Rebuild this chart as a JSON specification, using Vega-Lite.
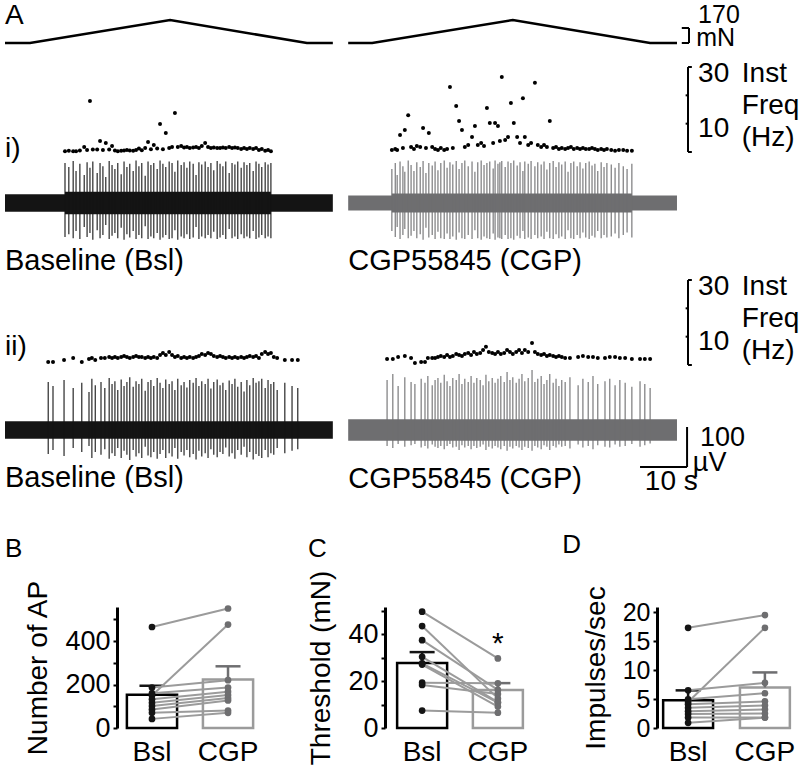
{
"$schema":"https://vega.github.io/schema/vega-lite/v6.json",
"padding":0,
"background":"white",
"config":{
 "view":{"stroke":null},
 "font":"Liberation Sans",
 "title":{"font":"Liberation Sans","fontWeight":"normal","color":"black"},
 "axisY":{"domainColor":"black","domainWidth":3,"tickColor":"black","tickWidth":2,"tickSize":4,"labelFontSize":27,"labelPadding":3,"labelOverlap":false,"titleFontSize":28,"grid":false,"labelColor":"black","titleColor":"black","titleFontWeight":"normal","labelFont":"Liberation Sans","titleFont":"Liberation Sans"},
 "axisX":{"domain":false,"ticks":false,"labelAngle":0,"labelFontSize":28,"labelPadding":10,"labelColor":"black","grid":false,"labelFont":"Liberation Sans"}
},
"datasets":{
 "force":[
  {"c":"B","t":0,"mN":0},{"c":"B","t":5.2,"mN":0},{"c":"B","t":34.4,"mN":260},{"c":"B","t":62.9,"mN":0},{"c":"B","t":68.3,"mN":0},
  {"c":"C","t":71.5,"mN":0},{"c":"C","t":76.5,"mN":0},{"c":"C","t":105.8,"mN":260},{"c":"C","t":134.4,"mN":0},{"c":"C","t":140,"mN":0}
 ],
 "noise":[
  {"c":"B","r":1,"t0":0,"t1":68.3,"lo":-22,"hi":22},
  {"c":"B","r":1,"t0":12.5,"t1":55.4,"lo":-28,"hi":28},
  {"c":"C","r":1,"t0":71.5,"t1":140,"lo":-19,"hi":19},
  {"c":"C","r":1,"t0":80.6,"t1":130.6,"lo":-24,"hi":24},
  {"c":"B","r":2,"t0":0,"t1":68.3,"lo":-22,"hi":22},
  {"c":"C","r":2,"t0":71.5,"t1":140,"lo":-27,"hi":27}
 ],
 "spk":[
  {"c":"B","r":1,"t":12.5,"u":100,"d":-85,"f":0.3},{"c":"B","r":1,"t":13.3,"u":90,"d":-78,"f":0.4},{"c":"B","r":1,"t":14.2,"u":105,"d":-88,"f":0.3},{"c":"B","r":1,"t":14.8,"u":80,"d":-70,"f":0.3},
  {"c":"B","r":1,"t":15.6,"u":98,"d":-90,"f":0.5},{"c":"B","r":1,"t":16.5,"u":70,"d":-60,"f":1.8},{"c":"B","r":1,"t":17.1,"u":102,"d":-85,"f":0.7},{"c":"B","r":1,"t":17.7,"u":88,"d":-75,"f":18},
  {"c":"B","r":1,"t":18.3,"u":104,"d":-92,"f":0.9},{"c":"B","r":1,"t":19.2,"u":75,"d":-68,"f":0.9},{"c":"B","r":1,"t":19.8,"u":100,"d":-88,"f":3.9},{"c":"B","r":1,"t":20.4,"u":92,"d":-80,"f":0.7},
  {"c":"B","r":1,"t":21.0,"u":65,"d":-55,"f":3.2},{"c":"B","r":1,"t":21.7,"u":105,"d":-90,"f":0.9},{"c":"B","r":1,"t":22.3,"u":95,"d":-82,"f":2.1},{"c":"B","r":1,"t":22.9,"u":85,"d":-75,"f":0.5},
  {"c":"B","r":1,"t":23.5,"u":100,"d":-88,"f":0.3},{"c":"B","r":1,"t":24.2,"u":72,"d":-62,"f":0.4},{"c":"B","r":1,"t":24.8,"u":104,"d":-92,"f":0.5},{"c":"B","r":1,"t":25.4,"u":90,"d":-78,"f":0.7},
  {"c":"B","r":1,"t":26.0,"u":98,"d":-86,"f":0.5},{"c":"B","r":1,"t":26.7,"u":80,"d":-70,"f":0.4},{"c":"B","r":1,"t":27.3,"u":106,"d":-90,"f":0.7},{"c":"B","r":1,"t":27.9,"u":92,"d":-80,"f":1.2},
  {"c":"B","r":1,"t":28.5,"u":100,"d":-88,"f":0.6},{"c":"B","r":1,"t":29.2,"u":68,"d":-58,"f":1.4},{"c":"B","r":1,"t":29.8,"u":104,"d":-90,"f":3.5},{"c":"B","r":1,"t":30.4,"u":95,"d":-84,"f":1.0},
  {"c":"B","r":1,"t":31.0,"u":100,"d":-88,"f":2.5},{"c":"B","r":1,"t":31.7,"u":85,"d":-75,"f":1.2},{"c":"B","r":1,"t":32.3,"u":106,"d":-92,"f":9.9},{"c":"B","r":1,"t":32.9,"u":98,"d":-86,"f":1.0},
  {"c":"B","r":1,"t":33.5,"u":90,"d":-80,"f":6.7},{"c":"B","r":1,"t":34.2,"u":104,"d":-90,"f":1.4},{"c":"B","r":1,"t":34.8,"u":100,"d":-88,"f":1.8},{"c":"B","r":1,"t":35.4,"u":78,"d":-68,"f":13.8},
  {"c":"B","r":1,"t":36.0,"u":106,"d":-92,"f":1.8},{"c":"B","r":1,"t":36.7,"u":95,"d":-84,"f":2.1},{"c":"B","r":1,"t":37.3,"u":102,"d":-88,"f":1.6},{"c":"B","r":1,"t":37.9,"u":88,"d":-78,"f":1.8},
  {"c":"B","r":1,"t":38.5,"u":104,"d":-90,"f":1.4},{"c":"B","r":1,"t":39.2,"u":98,"d":-86,"f":1.6},{"c":"B","r":1,"t":39.8,"u":70,"d":-60,"f":1.8},{"c":"B","r":1,"t":40.4,"u":102,"d":-90,"f":1.4},
  {"c":"B","r":1,"t":41.0,"u":96,"d":-84,"f":2.1},{"c":"B","r":1,"t":41.7,"u":104,"d":-88,"f":3.2},{"c":"B","r":1,"t":42.3,"u":90,"d":-80,"f":1.8},{"c":"B","r":1,"t":42.9,"u":100,"d":-88,"f":1.4},
  {"c":"B","r":1,"t":43.5,"u":82,"d":-72,"f":1.6},{"c":"B","r":1,"t":44.2,"u":105,"d":-90,"f":1.4},{"c":"B","r":1,"t":44.8,"u":98,"d":-86,"f":1.4},{"c":"B","r":1,"t":45.4,"u":92,"d":-80,"f":1.6},
  {"c":"B","r":1,"t":46.0,"u":104,"d":-90,"f":1.4},{"c":"B","r":1,"t":46.7,"u":75,"d":-65,"f":1.8},{"c":"B","r":1,"t":47.3,"u":100,"d":-88,"f":1.4},{"c":"B","r":1,"t":47.9,"u":96,"d":-84,"f":1.6},
  {"c":"B","r":1,"t":48.5,"u":104,"d":-90,"f":1.4},{"c":"B","r":1,"t":49.2,"u":88,"d":-78,"f":1.1},{"c":"B","r":1,"t":49.8,"u":102,"d":-88,"f":1.4},{"c":"B","r":1,"t":50.4,"u":95,"d":-84,"f":1.1},
  {"c":"B","r":1,"t":51.0,"u":100,"d":-88,"f":1.4},{"c":"B","r":1,"t":51.7,"u":80,"d":-70,"f":1.1},{"c":"B","r":1,"t":52.3,"u":104,"d":-90,"f":1.4},{"c":"B","r":1,"t":52.9,"u":98,"d":-86,"f":0.7},
  {"c":"B","r":1,"t":53.5,"u":90,"d":-80,"f":1.1},{"c":"B","r":1,"t":54.2,"u":102,"d":-88,"f":0.4},{"c":"B","r":1,"t":54.8,"u":96,"d":-84,"f":0.7},{"c":"B","r":1,"t":55.4,"u":100,"d":-88,"f":0.3},

  {"c":"C","r":1,"t":80.6,"u":85,"d":-70,"f":0.7},{"c":"C","r":1,"t":81.3,"u":100,"d":-85,"f":1.1},{"c":"C","r":1,"t":81.7,"u":70,"d":-60,"f":0.7},{"c":"C","r":1,"t":82.3,"u":104,"d":-90,"f":6.0},
  {"c":"C","r":1,"t":82.9,"u":92,"d":-80,"f":1.4},{"c":"C","r":1,"t":83.3,"u":78,"d":-65,"f":7.8},{"c":"C","r":1,"t":84.0,"u":106,"d":-88,"f":13.0},{"c":"C","r":1,"t":84.6,"u":95,"d":-82,"f":1.8},
  {"c":"C","r":1,"t":85.2,"u":80,"d":-70,"f":1.1},{"c":"C","r":1,"t":85.8,"u":102,"d":-88,"f":2.1},{"c":"C","r":1,"t":86.5,"u":90,"d":-78,"f":1.8},{"c":"C","r":1,"t":87.1,"u":105,"d":-92,"f":8.5},
  {"c":"C","r":1,"t":87.7,"u":75,"d":-62,"f":1.4},{"c":"C","r":1,"t":88.3,"u":100,"d":-86,"f":6.7},{"c":"C","r":1,"t":89.0,"u":94,"d":-80,"f":1.8},{"c":"C","r":1,"t":89.6,"u":104,"d":-90,"f":1.1},
  {"c":"C","r":1,"t":90.2,"u":82,"d":-72,"f":0.7},{"c":"C","r":1,"t":90.8,"u":100,"d":-88,"f":1.4},{"c":"C","r":1,"t":91.5,"u":106,"d":-90,"f":0.7},{"c":"C","r":1,"t":92.1,"u":88,"d":-76,"f":1.1},
  {"c":"C","r":1,"t":92.7,"u":102,"d":-90,"f":22.9},{"c":"C","r":1,"t":93.3,"u":96,"d":-84,"f":1.4},{"c":"C","r":1,"t":94.0,"u":105,"d":-92,"f":16.2},{"c":"C","r":1,"t":94.6,"u":85,"d":-74,"f":10.9},
  {"c":"C","r":1,"t":95.2,"u":100,"d":-88,"f":7.8},{"c":"C","r":1,"t":95.8,"u":106,"d":-90,"f":1.8},{"c":"C","r":1,"t":96.5,"u":92,"d":-80,"f":2.5},{"c":"C","r":1,"t":97.3,"u":104,"d":-90,"f":5.3},
  {"c":"C","r":1,"t":97.9,"u":78,"d":-68,"f":9.2},{"c":"C","r":1,"t":98.5,"u":102,"d":-88,"f":2.5},{"c":"C","r":1,"t":99.2,"u":106,"d":-92,"f":3.2},{"c":"C","r":1,"t":99.8,"u":95,"d":-84,"f":2.1},
  {"c":"C","r":1,"t":100.4,"u":100,"d":-88,"f":15.5},{"c":"C","r":1,"t":101.0,"u":104,"d":-90,"f":10.2},{"c":"C","r":1,"t":101.7,"u":86,"d":-76,"f":3.2},{"c":"C","r":1,"t":102.1,"u":106,"d":-92,"f":10.2},
  {"c":"C","r":1,"t":102.7,"u":98,"d":-86,"f":9.2},{"c":"C","r":1,"t":103.1,"u":102,"d":-88,"f":3.9},{"c":"C","r":1,"t":103.5,"u":105,"d":-90,"f":26.5},{"c":"C","r":1,"t":104.2,"u":90,"d":-80,"f":4.2},
  {"c":"C","r":1,"t":104.8,"u":104,"d":-90,"f":5.3},{"c":"C","r":1,"t":105.4,"u":100,"d":-88,"f":17.3},{"c":"C","r":1,"t":106.0,"u":106,"d":-92,"f":10.2},{"c":"C","r":1,"t":106.7,"u":94,"d":-82,"f":5.3},
  {"c":"C","r":1,"t":107.3,"u":102,"d":-88,"f":3.2},{"c":"C","r":1,"t":107.9,"u":80,"d":-70,"f":19.0},{"c":"C","r":1,"t":108.3,"u":104,"d":-90,"f":5.3},{"c":"C","r":1,"t":109.0,"u":98,"d":-86,"f":2.5},
  {"c":"C","r":1,"t":109.6,"u":105,"d":-90,"f":3.2},{"c":"C","r":1,"t":110.4,"u":92,"d":-80,"f":24.4},{"c":"C","r":1,"t":111.0,"u":102,"d":-88,"f":2.5},{"c":"C","r":1,"t":111.7,"u":96,"d":-84,"f":1.8},
  {"c":"C","r":1,"t":112.3,"u":104,"d":-90,"f":2.5},{"c":"C","r":1,"t":112.9,"u":84,"d":-72,"f":1.8},{"c":"C","r":1,"t":113.5,"u":100,"d":-88,"f":10.9},{"c":"C","r":1,"t":114.2,"u":105,"d":-90,"f":1.4},
  {"c":"C","r":1,"t":114.8,"u":90,"d":-78,"f":1.8},{"c":"C","r":1,"t":115.4,"u":102,"d":-88,"f":1.1},{"c":"C","r":1,"t":116.0,"u":96,"d":-84,"f":1.4},{"c":"C","r":1,"t":116.7,"u":104,"d":-90,"f":1.1},
  {"c":"C","r":1,"t":117.3,"u":78,"d":-68,"f":1.4},{"c":"C","r":1,"t":117.9,"u":100,"d":-88,"f":1.8},{"c":"C","r":1,"t":118.5,"u":104,"d":-90,"f":1.1},{"c":"C","r":1,"t":119.2,"u":92,"d":-80,"f":1.4},
  {"c":"C","r":1,"t":119.8,"u":102,"d":-88,"f":1.1},{"c":"C","r":1,"t":120.4,"u":86,"d":-74,"f":1.4},{"c":"C","r":1,"t":121.0,"u":100,"d":-86,"f":1.1},{"c":"C","r":1,"t":121.7,"u":104,"d":-90,"f":1.1},
  {"c":"C","r":1,"t":122.3,"u":94,"d":-82,"f":1.4},{"c":"C","r":1,"t":122.9,"u":98,"d":-86,"f":1.1},{"c":"C","r":1,"t":123.5,"u":80,"d":-70,"f":0.7},{"c":"C","r":1,"t":124.2,"u":102,"d":-88,"f":1.1},
  {"c":"C","r":1,"t":124.8,"u":90,"d":-80,"f":0.7},{"c":"C","r":1,"t":125.4,"u":100,"d":-86,"f":1.1},{"c":"C","r":1,"t":126.3,"u":96,"d":-84,"f":0.7},{"c":"C","r":1,"t":127.1,"u":88,"d":-76,"f":0.4},
  {"c":"C","r":1,"t":127.9,"u":100,"d":-88,"f":0.7},{"c":"C","r":1,"t":128.8,"u":92,"d":-80,"f":0.7},{"c":"C","r":1,"t":129.6,"u":85,"d":-74,"f":0.4},{"c":"C","r":1,"t":130.6,"u":98,"d":-86,"f":0.4},

  {"c":"B","r":2,"t":9.0,"u":120,"d":-60,"f":1.1},{"c":"B","r":2,"t":10.0,"u":110,"d":-50,"f":1.1},{"c":"B","r":2,"t":12.3,"u":125,"d":-65,"f":1.8},{"c":"B","r":2,"t":14.2,"u":105,"d":-45,"f":2.5},
  {"c":"B","r":2,"t":16.0,"u":118,"d":-55,"f":1.1},{"c":"B","r":2,"t":17.5,"u":95,"d":-40,"f":2.1},{"c":"B","r":2,"t":18.1,"u":128,"d":-70,"f":2.5},{"c":"B","r":2,"t":18.8,"u":112,"d":-55,"f":1.8},
  {"c":"B","r":2,"t":20.0,"u":120,"d":-62,"f":2.5},{"c":"B","r":2,"t":20.8,"u":105,"d":-48,"f":2.5},{"c":"B","r":2,"t":21.7,"u":130,"d":-72,"f":2.8},{"c":"B","r":2,"t":22.3,"u":115,"d":-58,"f":2.5},
  {"c":"B","r":2,"t":22.9,"u":122,"d":-65,"f":2.8},{"c":"B","r":2,"t":23.5,"u":100,"d":-45,"f":2.5},{"c":"B","r":2,"t":24.2,"u":126,"d":-70,"f":2.8},{"c":"B","r":2,"t":24.8,"u":110,"d":-52,"f":3.2},
  {"c":"B","r":2,"t":25.4,"u":120,"d":-62,"f":2.8},{"c":"B","r":2,"t":26.0,"u":132,"d":-75,"f":2.5},{"c":"B","r":2,"t":26.7,"u":108,"d":-50,"f":2.8},{"c":"B","r":2,"t":27.3,"u":122,"d":-66,"f":3.2},
  {"c":"B","r":2,"t":27.9,"u":115,"d":-58,"f":2.8},{"c":"B","r":2,"t":28.5,"u":128,"d":-70,"f":2.8},{"c":"B","r":2,"t":29.2,"u":98,"d":-42,"f":2.5},{"c":"B","r":2,"t":29.8,"u":120,"d":-64,"f":2.8},
  {"c":"B","r":2,"t":30.4,"u":125,"d":-68,"f":2.5},{"c":"B","r":2,"t":31.0,"u":110,"d":-55,"f":2.8},{"c":"B","r":2,"t":31.7,"u":130,"d":-72,"f":2.5},{"c":"B","r":2,"t":32.3,"u":118,"d":-60,"f":3.5},
  {"c":"B","r":2,"t":32.9,"u":105,"d":-50,"f":4.2},{"c":"B","r":2,"t":33.5,"u":126,"d":-70,"f":3.5},{"c":"B","r":2,"t":34.2,"u":115,"d":-58,"f":4.6},{"c":"B","r":2,"t":34.8,"u":122,"d":-66,"f":3.5},
  {"c":"B","r":2,"t":35.4,"u":100,"d":-45,"f":2.8},{"c":"B","r":2,"t":36.0,"u":128,"d":-72,"f":3.2},{"c":"B","r":2,"t":36.7,"u":112,"d":-55,"f":2.5},{"c":"B","r":2,"t":37.3,"u":120,"d":-64,"f":2.8},
  {"c":"B","r":2,"t":37.9,"u":106,"d":-50,"f":2.5},{"c":"B","r":2,"t":38.5,"u":125,"d":-68,"f":2.8},{"c":"B","r":2,"t":39.2,"u":118,"d":-60,"f":2.5},{"c":"B","r":2,"t":39.8,"u":130,"d":-74,"f":2.8},
  {"c":"B","r":2,"t":40.4,"u":110,"d":-52,"f":3.2},{"c":"B","r":2,"t":41.0,"u":122,"d":-66,"f":3.9},{"c":"B","r":2,"t":41.7,"u":115,"d":-58,"f":3.5},{"c":"B","r":2,"t":42.3,"u":128,"d":-70,"f":4.2},
  {"c":"B","r":2,"t":42.9,"u":104,"d":-48,"f":3.9},{"c":"B","r":2,"t":43.5,"u":120,"d":-62,"f":3.2},{"c":"B","r":2,"t":44.2,"u":126,"d":-68,"f":2.8},{"c":"B","r":2,"t":44.8,"u":112,"d":-55,"f":3.2},
  {"c":"B","r":2,"t":45.4,"u":118,"d":-60,"f":2.8},{"c":"B","r":2,"t":46.0,"u":100,"d":-44,"f":2.5},{"c":"B","r":2,"t":46.7,"u":124,"d":-66,"f":2.8},{"c":"B","r":2,"t":47.3,"u":115,"d":-58,"f":2.5},
  {"c":"B","r":2,"t":47.9,"u":128,"d":-72,"f":2.8},{"c":"B","r":2,"t":48.5,"u":108,"d":-50,"f":2.5},{"c":"B","r":2,"t":49.2,"u":120,"d":-62,"f":2.8},{"c":"B","r":2,"t":49.8,"u":96,"d":-42,"f":2.5},
  {"c":"B","r":2,"t":50.4,"u":125,"d":-68,"f":2.8},{"c":"B","r":2,"t":51.0,"u":112,"d":-55,"f":3.2},{"c":"B","r":2,"t":51.7,"u":130,"d":-74,"f":2.8},{"c":"B","r":2,"t":52.3,"u":118,"d":-60,"f":3.2},
  {"c":"B","r":2,"t":52.9,"u":122,"d":-65,"f":2.5},{"c":"B","r":2,"t":53.5,"u":128,"d":-70,"f":3.9},{"c":"B","r":2,"t":54.2,"u":105,"d":-50,"f":4.6},{"c":"B","r":2,"t":54.8,"u":125,"d":-68,"f":3.9},
  {"c":"B","r":2,"t":55.4,"u":115,"d":-58,"f":4.2},{"c":"B","r":2,"t":56.0,"u":120,"d":-62,"f":2.8},{"c":"B","r":2,"t":56.7,"u":100,"d":-45,"f":2.5},{"c":"B","r":2,"t":58.3,"u":118,"d":-58,"f":1.8},
  {"c":"B","r":2,"t":59.8,"u":110,"d":-52,"f":1.8},{"c":"B","r":2,"t":61.0,"u":105,"d":-48,"f":1.8},

  {"c":"C","r":2,"t":79.6,"u":125,"d":-40,"f":2.1},{"c":"C","r":2,"t":80.8,"u":140,"d":-45,"f":2.1},{"c":"C","r":2,"t":81.9,"u":110,"d":-35,"f":2.8},{"c":"C","r":2,"t":83.3,"u":132,"d":-42,"f":3.2},
  {"c":"C","r":2,"t":84.6,"u":120,"d":-38,"f":2.5},{"c":"C","r":2,"t":85.4,"u":115,"d":-35,"f":0.7},{"c":"C","r":2,"t":86.7,"u":128,"d":-44,"f":1.1},{"c":"C","r":2,"t":87.5,"u":118,"d":-40,"f":1.1},
  {"c":"C","r":2,"t":88.1,"u":135,"d":-46,"f":2.5},{"c":"C","r":2,"t":89.0,"u":112,"d":-36,"f":2.5},{"c":"C","r":2,"t":89.6,"u":125,"d":-42,"f":2.5},{"c":"C","r":2,"t":90.2,"u":130,"d":-45,"f":2.8},
  {"c":"C","r":2,"t":90.8,"u":118,"d":-40,"f":3.2},{"c":"C","r":2,"t":91.5,"u":138,"d":-48,"f":2.8},{"c":"C","r":2,"t":92.1,"u":122,"d":-40,"f":3.5},{"c":"C","r":2,"t":92.7,"u":110,"d":-35,"f":2.8},
  {"c":"C","r":2,"t":93.3,"u":130,"d":-44,"f":3.2},{"c":"C","r":2,"t":94.0,"u":125,"d":-42,"f":3.9},{"c":"C","r":2,"t":94.6,"u":140,"d":-50,"f":3.5},{"c":"C","r":2,"t":95.2,"u":115,"d":-38,"f":3.2},
  {"c":"C","r":2,"t":95.8,"u":128,"d":-44,"f":3.9},{"c":"C","r":2,"t":96.5,"u":120,"d":-40,"f":4.2},{"c":"C","r":2,"t":97.1,"u":135,"d":-48,"f":3.5},{"c":"C","r":2,"t":97.7,"u":118,"d":-40,"f":4.6},
  {"c":"C","r":2,"t":98.3,"u":130,"d":-45,"f":3.9},{"c":"C","r":2,"t":99.0,"u":125,"d":-42,"f":4.2},{"c":"C","r":2,"t":99.6,"u":112,"d":-36,"f":5.3},{"c":"C","r":2,"t":100.2,"u":138,"d":-50,"f":6.4},
  {"c":"C","r":2,"t":100.8,"u":122,"d":-42,"f":4.6},{"c":"C","r":2,"t":101.5,"u":130,"d":-46,"f":4.2},{"c":"C","r":2,"t":102.1,"u":118,"d":-40,"f":3.9},{"c":"C","r":2,"t":102.7,"u":128,"d":-44,"f":4.6},
  {"c":"C","r":2,"t":103.3,"u":135,"d":-48,"f":3.9},{"c":"C","r":2,"t":104.0,"u":120,"d":-40,"f":4.2},{"c":"C","r":2,"t":104.6,"u":145,"d":-52,"f":5.3},{"c":"C","r":2,"t":105.2,"u":125,"d":-42,"f":4.6},
  {"c":"C","r":2,"t":105.8,"u":132,"d":-46,"f":3.9},{"c":"C","r":2,"t":106.5,"u":118,"d":-40,"f":4.6},{"c":"C","r":2,"t":107.1,"u":128,"d":-44,"f":5.3},{"c":"C","r":2,"t":107.7,"u":140,"d":-50,"f":4.2},
  {"c":"C","r":2,"t":108.3,"u":122,"d":-42,"f":5.3},{"c":"C","r":2,"t":109.0,"u":130,"d":-45,"f":4.6},{"c":"C","r":2,"t":109.8,"u":150,"d":-52,"f":7.8},{"c":"C","r":2,"t":110.4,"u":120,"d":-40,"f":4.6},
  {"c":"C","r":2,"t":111.0,"u":128,"d":-44,"f":3.9},{"c":"C","r":2,"t":111.7,"u":135,"d":-48,"f":3.5},{"c":"C","r":2,"t":112.3,"u":115,"d":-38,"f":3.9},{"c":"C","r":2,"t":112.9,"u":125,"d":-42,"f":3.2},
  {"c":"C","r":2,"t":113.5,"u":140,"d":-50,"f":3.5},{"c":"C","r":2,"t":114.2,"u":118,"d":-40,"f":3.2},{"c":"C","r":2,"t":114.8,"u":128,"d":-44,"f":2.8},{"c":"C","r":2,"t":115.4,"u":110,"d":-36,"f":3.2},
  {"c":"C","r":2,"t":116.0,"u":125,"d":-42,"f":2.8},{"c":"C","r":2,"t":116.7,"u":120,"d":-40,"f":2.5},{"c":"C","r":2,"t":117.7,"u":132,"d":-46,"f":2.5},{"c":"C","r":2,"t":119.4,"u":112,"d":-36,"f":2.8},
  {"c":"C","r":2,"t":120.4,"u":128,"d":-44,"f":3.2},{"c":"C","r":2,"t":121.5,"u":120,"d":-40,"f":2.8},{"c":"C","r":2,"t":122.5,"u":135,"d":-48,"f":2.8},{"c":"C","r":2,"t":123.5,"u":115,"d":-38,"f":2.5},
  {"c":"C","r":2,"t":125.0,"u":122,"d":-42,"f":2.5},{"c":"C","r":2,"t":126.0,"u":128,"d":-44,"f":2.8},{"c":"C","r":2,"t":127.1,"u":112,"d":-36,"f":2.8},{"c":"C","r":2,"t":128.1,"u":125,"d":-42,"f":2.5},
  {"c":"C","r":2,"t":129.2,"u":118,"d":-40,"f":2.5},{"c":"C","r":2,"t":130.6,"u":108,"d":-35,"f":2.1},{"c":"C","r":2,"t":132.3,"u":122,"d":-42,"f":2.1},{"c":"C","r":2,"t":133.3,"u":115,"d":-38,"f":2.1},
  {"c":"C","r":2,"t":134.4,"u":105,"d":-34,"f":2.1}
 ],
 "ptB":[
  {"s":1,"g":"Bsl","v":465},{"s":1,"g":"CGP","v":550},{"s":2,"g":"Bsl","v":150},{"s":2,"g":"CGP","v":476},
  {"s":3,"g":"Bsl","v":186},{"s":3,"g":"CGP","v":220},{"s":4,"g":"Bsl","v":160},{"s":4,"g":"CGP","v":186},
  {"s":5,"g":"Bsl","v":132},{"s":5,"g":"CGP","v":167},{"s":6,"g":"Bsl","v":116},{"s":6,"g":"CGP","v":152},
  {"s":7,"g":"Bsl","v":101},{"s":7,"g":"CGP","v":138},{"s":8,"g":"Bsl","v":85},{"s":8,"g":"CGP","v":127},
  {"s":9,"g":"Bsl","v":70},{"s":9,"g":"CGP","v":80},{"s":10,"g":"Bsl","v":42},{"s":10,"g":"CGP","v":70}
 ],
 "barB":[{"g":"Bsl","m":153,"e":195},{"g":"CGP","m":223,"e":284}],
 "ptC":[
  {"s":1,"g":"Bsl","v":49.5},{"s":1,"g":"CGP","v":29.6},{"s":2,"g":"Bsl","v":43.4},{"s":2,"g":"CGP","v":12.6},
  {"s":3,"g":"Bsl","v":37.4},{"s":3,"g":"CGP","v":16.2},{"s":4,"g":"Bsl","v":30.3},{"s":4,"g":"CGP","v":11.0},
  {"s":5,"g":"Bsl","v":27.5},{"s":5,"g":"CGP","v":10.8},{"s":6,"g":"Bsl","v":27.0},{"s":6,"g":"CGP","v":9.1},
  {"s":7,"g":"Bsl","v":19.3},{"s":7,"g":"CGP","v":19.0},{"s":8,"g":"Bsl","v":18.3},{"s":8,"g":"CGP","v":14.5},
  {"s":9,"g":"Bsl","v":7.4},{"s":9,"g":"CGP","v":6.5}
 ],
 "barC":[{"g":"Bsl","m":27.7,"e":32.3},{"g":"CGP","m":16.2,"e":19.1}],
 "ptD":[
  {"s":1,"g":"Bsl","v":17.3},{"s":1,"g":"CGP","v":19.5},{"s":2,"g":"Bsl","v":4.5},{"s":2,"g":"CGP","v":17.3},
  {"s":3,"g":"Bsl","v":6.5},{"s":3,"g":"CGP","v":7.8},{"s":4,"g":"Bsl","v":4.95},{"s":4,"g":"CGP","v":6.0},
  {"s":5,"g":"Bsl","v":4.1},{"s":5,"g":"CGP","v":4.6},{"s":6,"g":"Bsl","v":3.5},{"s":6,"g":"CGP","v":3.9},
  {"s":7,"g":"Bsl","v":2.9},{"s":7,"g":"CGP","v":3.2},{"s":8,"g":"Bsl","v":2.4},{"s":8,"g":"CGP","v":2.5},
  {"s":9,"g":"Bsl","v":1.8},{"s":9,"g":"CGP","v":1.8},{"s":10,"g":"Bsl","v":0.9},{"s":10,"g":"CGP","v":1.8}
 ],
 "barD":[{"g":"Bsl","m":4.8,"e":6.5},{"g":"CGP","m":7.0,"e":9.6}]
},
"spacing":26,
"vconcat":[
 {
  "width":688,"height":505,
  "resolve":{"scale":{"y":"independent"}},
  "layer":[
   {"layer":[
     {"data":{"name":"force"},"mark":{"type":"line","color":"black","strokeWidth":2.5},
      "encoding":{"x":{"field":"t","type":"quantitative","scale":{"domain":[0,166.67],"range":[-112,688],"nice":false,"zero":false},"axis":null},
       "y":{"field":"mN","type":"quantitative","scale":{"domain":[-5236,487.3],"nice":false,"zero":false},"axis":null},
       "detail":{"field":"c"}}},
     {"data":{"values":[{}]},"mark":{"type":"rule","color":"black","strokeWidth":2},
      "encoding":{"x":{"datum":142.5,"type":"quantitative","axis":null},"y":{"datum":0,"type":"quantitative","scale":{"domain":[-5236,487.3],"nice":false,"zero":false},"axis":null},"y2":{"datum":170}}},
     {"data":{"values":[{}]},"mark":{"type":"rule","color":"black","strokeWidth":2},
      "encoding":{"x":{"datum":141.0,"type":"quantitative","axis":null},"x2":{"datum":142.5},"y":{"datum":170,"type":"quantitative","scale":{"domain":[-5236,487.3],"nice":false,"zero":false},"axis":null}}},
     {"data":{"values":[{}]},"mark":{"type":"rule","color":"black","strokeWidth":2},
      "encoding":{"x":{"datum":141.0,"type":"quantitative","axis":null},"x2":{"datum":142.5},"y":{"datum":0,"type":"quantitative","scale":{"domain":[-5236,487.3],"nice":false,"zero":false},"axis":null}}},
     {"data":{"values":[{}]},"mark":{"type":"text","text":"A","align":"left","baseline":"alphabetic","fontSize":28,"color":"black"},
      "encoding":{"x":{"datum":0,"type":"quantitative","axis":null},"y":{"datum":215,"type":"quantitative","scale":{"domain":[-5236,487.3],"nice":false,"zero":false},"axis":null}}},
     {"data":{"values":[{}]},"mark":{"type":"text","text":"170","align":"left","baseline":"alphabetic","fontSize":25,"color":"black"},
      "encoding":{"x":{"datum":144.4,"type":"quantitative","axis":null},"y":{"datum":227,"type":"quantitative","scale":{"domain":[-5236,487.3],"nice":false,"zero":false},"axis":null}}},
     {"data":{"values":[{}]},"mark":{"type":"text","text":"mN","align":"left","baseline":"alphabetic","fontSize":25,"color":"black"},
      "encoding":{"x":{"datum":144.0,"type":"quantitative","axis":null},"y":{"datum":-34,"type":"quantitative","scale":{"domain":[-5236,487.3],"nice":false,"zero":false},"axis":null}}}
   ]},
   {"layer":[
     {"data":{"name":"spk"},"transform":[{"filter":"datum.r == 1"}],"mark":{"type":"point","filled":true,"shape":"circle","size":16,"color":"black","opacity":1},
      "encoding":{"x":{"field":"t","type":"quantitative","axis":null},"y":{"field":"f","type":"quantitative","scale":{"domain":[-124.6,53.65],"nice":false,"zero":false},"axis":null}}},
     {"data":{"values":[{}]},"mark":{"type":"rule","color":"black","strokeWidth":2},
      "encoding":{"x":{"datum":142.3,"type":"quantitative","axis":null},"y":{"datum":0,"type":"quantitative","scale":{"domain":[-124.6,53.65],"nice":false,"zero":false},"axis":null},"y2":{"datum":30}}},
     {"data":{"values":[{"h":0},{"h":30}]},"mark":{"type":"rule","color":"black","strokeWidth":2},
      "encoding":{"x":{"datum":142.3,"type":"quantitative","axis":null},"x2":{"datum":143.1},"y":{"field":"h","type":"quantitative","scale":{"domain":[-124.6,53.65],"nice":false,"zero":false},"axis":null}}},
     {"data":{"values":[{"h":10},{"h":20}]},"mark":{"type":"rule","color":"black","strokeWidth":2},
      "encoding":{"x":{"datum":141.8,"type":"quantitative","axis":null},"x2":{"datum":142.3},"y":{"field":"h","type":"quantitative","scale":{"domain":[-124.6,53.65],"nice":false,"zero":false},"axis":null}}},
     {"data":{"values":[{}]},"mark":{"type":"text","text":"i)","align":"left","baseline":"alphabetic","fontSize":28,"color":"black"},
      "encoding":{"x":{"datum":0,"type":"quantitative","axis":null},"y":{"datum":-1.8,"type":"quantitative","scale":{"domain":[-124.6,53.65],"nice":false,"zero":false},"axis":null}}},
     {"data":{"values":[{}]},"mark":{"type":"text","text":"30","align":"left","baseline":"alphabetic","fontSize":28,"color":"black"},
      "encoding":{"x":{"datum":144.4,"type":"quantitative","axis":null},"y":{"datum":24.7,"type":"quantitative","scale":{"domain":[-124.6,53.65],"nice":false,"zero":false},"axis":null}}},
     {"data":{"values":[{}]},"mark":{"type":"text","text":"10","align":"left","baseline":"alphabetic","fontSize":28,"color":"black"},
      "encoding":{"x":{"datum":144.4,"type":"quantitative","axis":null},"y":{"datum":5.3,"type":"quantitative","scale":{"domain":[-124.6,53.65],"nice":false,"zero":false},"axis":null}}},
     {"data":{"values":[{}]},"mark":{"type":"text","text":["Inst","Freq","(Hz)"],"lineHeight":32,"align":"left","baseline":"alphabetic","fontSize":28,"color":"black"},
      "encoding":{"x":{"datum":153.5,"type":"quantitative","axis":null},"y":{"datum":24.7,"type":"quantitative","scale":{"domain":[-124.6,53.65],"nice":false,"zero":false},"axis":null}}}
   ]},
   {"layer":[
     {"data":{"name":"noise"},"transform":[{"filter":"datum.r == 1"}],"mark":{"type":"rect"},
      "encoding":{"x":{"field":"t0","type":"quantitative","axis":null},"x2":{"field":"t1"},
       "y":{"field":"lo","type":"quantitative","scale":{"domain":[-755,507.5],"nice":false,"zero":false},"axis":null},"y2":{"field":"hi"},
       "color":{"field":"c","type":"nominal","scale":{"domain":["B","C"],"range":["#141414","#6e6e70"]},"legend":null}}},
     {"data":{"name":"spk"},"transform":[{"filter":"datum.r == 1"}],"mark":{"type":"rule","strokeWidth":1.1},
      "encoding":{"x":{"field":"t","type":"quantitative","axis":null},
       "y":{"field":"u","type":"quantitative","scale":{"domain":[-755,507.5],"nice":false,"zero":false},"axis":null},"y2":{"field":"d"},
       "color":{"field":"c","type":"nominal","scale":{"domain":["B","C"],"range":["#141414","#6e6e70"]},"legend":null}}},
     {"data":{"values":[{}]},"mark":{"type":"text","text":"Baseline (Bsl)","align":"left","baseline":"alphabetic","fontSize":29,"color":"black"},
      "encoding":{"x":{"datum":0,"type":"quantitative","axis":null},"y":{"datum":-167.5,"type":"quantitative","scale":{"domain":[-755,507.5],"nice":false,"zero":false},"axis":null}}},
     {"data":{"values":[{}]},"mark":{"type":"text","text":"CGP55845 (CGP)","align":"left","baseline":"alphabetic","fontSize":29,"color":"black"},
      "encoding":{"x":{"datum":71.5,"type":"quantitative","axis":null},"y":{"datum":-167.5,"type":"quantitative","scale":{"domain":[-755,507.5],"nice":false,"zero":false},"axis":null}}}
   ]},
   {"layer":[
     {"data":{"name":"spk"},"transform":[{"filter":"datum.r == 2"}],"mark":{"type":"point","filled":true,"shape":"circle","size":16,"color":"black","opacity":1},
      "encoding":{"x":{"field":"t","type":"quantitative","axis":null},"y":{"field":"f","type":"quantitative","scale":{"domain":[-49.42,128.84],"nice":false,"zero":false},"axis":null}}},
     {"data":{"values":[{}]},"mark":{"type":"rule","color":"black","strokeWidth":2},
      "encoding":{"x":{"datum":142.3,"type":"quantitative","axis":null},"y":{"datum":0,"type":"quantitative","scale":{"domain":[-49.42,128.84],"nice":false,"zero":false},"axis":null},"y2":{"datum":30}}},
     {"data":{"values":[{"h":0},{"h":30}]},"mark":{"type":"rule","color":"black","strokeWidth":2},
      "encoding":{"x":{"datum":142.3,"type":"quantitative","axis":null},"x2":{"datum":143.1},"y":{"field":"h","type":"quantitative","scale":{"domain":[-49.42,128.84],"nice":false,"zero":false},"axis":null}}},
     {"data":{"values":[{"h":10},{"h":20}]},"mark":{"type":"rule","color":"black","strokeWidth":2},
      "encoding":{"x":{"datum":141.8,"type":"quantitative","axis":null},"x2":{"datum":142.3},"y":{"field":"h","type":"quantitative","scale":{"domain":[-49.42,128.84],"nice":false,"zero":false},"axis":null}}},
     {"data":{"values":[{}]},"mark":{"type":"text","text":"ii)","align":"left","baseline":"alphabetic","fontSize":28,"color":"black"},
      "encoding":{"x":{"datum":0,"type":"quantitative","axis":null},"y":{"datum":3.5,"type":"quantitative","scale":{"domain":[-49.42,128.84],"nice":false,"zero":false},"axis":null}}},
     {"data":{"values":[{}]},"mark":{"type":"text","text":"30","align":"left","baseline":"alphabetic","fontSize":28,"color":"black"},
      "encoding":{"x":{"datum":144.4,"type":"quantitative","axis":null},"y":{"datum":24.7,"type":"quantitative","scale":{"domain":[-49.42,128.84],"nice":false,"zero":false},"axis":null}}},
     {"data":{"values":[{}]},"mark":{"type":"text","text":"10","align":"left","baseline":"alphabetic","fontSize":28,"color":"black"},
      "encoding":{"x":{"datum":144.4,"type":"quantitative","axis":null},"y":{"datum":5.3,"type":"quantitative","scale":{"domain":[-49.42,128.84],"nice":false,"zero":false},"axis":null}}},
     {"data":{"values":[{}]},"mark":{"type":"text","text":["Inst","Freq","(Hz)"],"lineHeight":32,"align":"left","baseline":"alphabetic","fontSize":28,"color":"black"},
      "encoding":{"x":{"datum":153.5,"type":"quantitative","axis":null},"y":{"datum":24.7,"type":"quantitative","scale":{"domain":[-49.42,128.84],"nice":false,"zero":false},"axis":null}}}
   ]},
   {"layer":[
     {"data":{"name":"noise"},"transform":[{"filter":"datum.r == 2"}],"mark":{"type":"rect"},
      "encoding":{"x":{"field":"t0","type":"quantitative","axis":null},"x2":{"field":"t1"},
       "y":{"field":"lo","type":"quantitative","scale":{"domain":[-187.5,1075],"nice":false,"zero":false},"axis":null},"y2":{"field":"hi"},
       "color":{"field":"c","type":"nominal","scale":{"domain":["B","C"],"range":["#141414","#6e6e70"]},"legend":null}}},
     {"data":{"name":"spk"},"transform":[{"filter":"datum.r == 2"}],"mark":{"type":"rule","strokeWidth":1.1},
      "encoding":{"x":{"field":"t","type":"quantitative","axis":null},
       "y":{"field":"u","type":"quantitative","scale":{"domain":[-187.5,1075],"nice":false,"zero":false},"axis":null},"y2":{"field":"d"},
       "color":{"field":"c","type":"nominal","scale":{"domain":["B","C"],"range":["#141414","#6e6e70"]},"legend":null}}},
     {"data":{"values":[{}]},"mark":{"type":"rule","color":"black","strokeWidth":2},
      "encoding":{"x":{"datum":142.1,"type":"quantitative","axis":null},"y":{"datum":-92.5,"type":"quantitative","scale":{"domain":[-187.5,1075],"nice":false,"zero":false},"axis":null},"y2":{"datum":7.5}}},
     {"data":{"values":[{}]},"mark":{"type":"rule","color":"black","strokeWidth":2},
      "encoding":{"x":{"datum":132.3,"type":"quantitative","axis":null},"x2":{"datum":142.1},"y":{"datum":-92.5,"type":"quantitative","scale":{"domain":[-187.5,1075],"nice":false,"zero":false},"axis":null}}},
     {"data":{"values":[{}]},"mark":{"type":"text","text":"Baseline (Bsl)","align":"left","baseline":"alphabetic","fontSize":29,"color":"black"},
      "encoding":{"x":{"datum":0,"type":"quantitative","axis":null},"y":{"datum":-142.5,"type":"quantitative","scale":{"domain":[-187.5,1075],"nice":false,"zero":false},"axis":null}}},
     {"data":{"values":[{}]},"mark":{"type":"text","text":"CGP55845 (CGP)","align":"left","baseline":"alphabetic","fontSize":29,"color":"black"},
      "encoding":{"x":{"datum":71.5,"type":"quantitative","axis":null},"y":{"datum":-145,"type":"quantitative","scale":{"domain":[-187.5,1075],"nice":false,"zero":false},"axis":null}}},
     {"data":{"values":[{}]},"mark":{"type":"text","text":"100","align":"left","baseline":"alphabetic","fontSize":27,"color":"black"},
      "encoding":{"x":{"datum":144.8,"type":"quantitative","axis":null},"y":{"datum":-40,"type":"quantitative","scale":{"domain":[-187.5,1075],"nice":false,"zero":false},"axis":null}}},
     {"data":{"values":[{}]},"mark":{"type":"text","text":"µV","align":"left","baseline":"alphabetic","fontSize":27,"color":"black"},
      "encoding":{"x":{"datum":143.3,"type":"quantitative","axis":null},"y":{"datum":-102,"type":"quantitative","scale":{"domain":[-187.5,1075],"nice":false,"zero":false},"axis":null}}},
     {"data":{"values":[{}]},"mark":{"type":"text","text":"10 s","align":"left","baseline":"alphabetic","fontSize":28,"color":"black"},
      "encoding":{"x":{"datum":133.3,"type":"quantitative","axis":null},"y":{"datum":-150,"type":"quantitative","scale":{"domain":[-187.5,1075],"nice":false,"zero":false},"axis":null}}}
   ]}
  ]
 },
 {
  "spacing":44,
  "hconcat":[
   {
    "width":146,"height":121,
    "title":{"text":"B","anchor":"start","fontSize":26,"dx":-20,"offset":18},
    "layer":[
     {"data":{"name":"barB"},"mark":{"type":"bar","fill":"white","strokeWidth":2.5},
      "encoding":{"x":{"field":"g","type":"nominal","scale":{"domain":["Bsl","CGP"],"paddingInner":0.34,"paddingOuter":0.13},"axis":{"title":null}},
       "y":{"field":"m","type":"quantitative","scale":{"domain":[0,557],"nice":false},"axis":{"title":"Number of AP","values":[0,100,200,300,400,500],"tickCount":6,"labelExpr":"datum.value % 200 == 0 ? datum.label : ''","titlePadding":12}},
       "stroke":{"field":"g","type":"nominal","scale":{"domain":["Bsl","CGP"],"range":["black","#9b9b9b"]},"legend":null}}},
     {"data":{"name":"barB"},"mark":{"type":"rule","strokeWidth":2.5},
      "encoding":{"x":{"field":"g","type":"nominal"},"y":{"field":"m","type":"quantitative"},"y2":{"field":"e"},
       "color":{"field":"g","type":"nominal","scale":{"domain":["Bsl","CGP"],"range":["black","#9b9b9b"]},"legend":null}}},
     {"data":{"name":"barB"},"mark":{"type":"tick","thickness":2.5,"size":25,"orient":"horizontal","opacity":1},
      "encoding":{"x":{"field":"g","type":"nominal"},"y":{"field":"e","type":"quantitative"},
       "color":{"field":"g","type":"nominal","scale":{"domain":["Bsl","CGP"],"range":["black","#9b9b9b"]},"legend":null}}},
     {"data":{"name":"ptB"},"mark":{"type":"line","color":"#9b9b9b","strokeWidth":2},
      "encoding":{"x":{"field":"g","type":"nominal"},"y":{"field":"v","type":"quantitative"},"detail":{"field":"s"}}},
     {"data":{"name":"ptB"},"mark":{"type":"circle","size":45,"opacity":1},
      "encoding":{"x":{"field":"g","type":"nominal"},"y":{"field":"v","type":"quantitative"},
       "color":{"field":"g","type":"nominal","scale":{"domain":["Bsl","CGP"],"range":["black","#9b9b9b"]},"legend":null}}}
    ]
   },
   {
    "spacing":27,
    "hconcat":[
     {
      "width":150,"height":121,
      "title":{"text":"C","anchor":"start","fontSize":26,"dx":0,"offset":8},
      "layer":[
       {"data":{"name":"barC"},"mark":{"type":"bar","fill":"white","strokeWidth":2.5},
        "encoding":{"x":{"field":"g","type":"nominal","scale":{"domain":["Bsl","CGP"],"paddingInner":0.34,"paddingOuter":0.16},"axis":{"title":null}},
         "y":{"field":"m","type":"quantitative","scale":{"domain":[0,51.5],"nice":false},"axis":{"title":"Threshold (mN)","values":[0,10,20,30,40,50],"tickCount":6,"labelExpr":"datum.value % 20 == 0 ? datum.label : ''","titlePadding":12}},
         "stroke":{"field":"g","type":"nominal","scale":{"domain":["Bsl","CGP"],"range":["black","#9b9b9b"]},"legend":null}}},
       {"data":{"name":"barC"},"mark":{"type":"rule","strokeWidth":2.5},
        "encoding":{"x":{"field":"g","type":"nominal"},"y":{"field":"m","type":"quantitative"},"y2":{"field":"e"},
         "color":{"field":"g","type":"nominal","scale":{"domain":["Bsl","CGP"],"range":["black","#9b9b9b"]},"legend":null}}},
       {"data":{"name":"barC"},"mark":{"type":"tick","thickness":2.5,"size":25,"orient":"horizontal","opacity":1},
        "encoding":{"x":{"field":"g","type":"nominal"},"y":{"field":"e","type":"quantitative"},
         "color":{"field":"g","type":"nominal","scale":{"domain":["Bsl","CGP"],"range":["black","#9b9b9b"]},"legend":null}}},
       {"data":{"name":"ptC"},"mark":{"type":"line","color":"#9b9b9b","strokeWidth":2},
        "encoding":{"x":{"field":"g","type":"nominal"},"y":{"field":"v","type":"quantitative"},"detail":{"field":"s"}}},
       {"data":{"name":"ptC"},"mark":{"type":"circle","size":45,"opacity":1},
        "encoding":{"x":{"field":"g","type":"nominal"},"y":{"field":"v","type":"quantitative"},
         "color":{"field":"g","type":"nominal","scale":{"domain":["Bsl","CGP"],"range":["black","#9b9b9b"]},"legend":null}}},
       {"data":{"values":[{}]},"mark":{"type":"text","text":"*","fontSize":30,"baseline":"alphabetic","color":"black"},
        "encoding":{"x":{"datum":"CGP","type":"nominal"},"y":{"datum":32,"type":"quantitative"}}}
      ]
     },
     {
      "width":139,"height":121,
      "title":{"text":"D","anchor":"start","fontSize":26,"dx":-20,"offset":28},
      "layer":[
       {"data":{"name":"barD"},"mark":{"type":"bar","fill":"white","strokeWidth":2.5},
        "encoding":{"x":{"field":"g","type":"nominal","scale":{"domain":["Bsl","CGP"],"paddingInner":0.35,"paddingOuter":0.08},"axis":{"title":null}},
         "y":{"field":"m","type":"quantitative","scale":{"domain":[0,20.9],"nice":false},"axis":{"title":"Impulses/sec","values":[0,5,10,15,20],"tickCount":5,"labelFontSize":25,"labelOverlap":false,"labelSeparation":0,"titlePadding":12}},
         "stroke":{"field":"g","type":"nominal","scale":{"domain":["Bsl","CGP"],"range":["black","#9b9b9b"]},"legend":null}}},
       {"data":{"name":"barD"},"mark":{"type":"rule","strokeWidth":2.5},
        "encoding":{"x":{"field":"g","type":"nominal"},"y":{"field":"m","type":"quantitative"},"y2":{"field":"e"},
         "color":{"field":"g","type":"nominal","scale":{"domain":["Bsl","CGP"],"range":["black","#9b9b9b"]},"legend":null}}},
       {"data":{"name":"barD"},"mark":{"type":"tick","thickness":2.5,"size":25,"orient":"horizontal","opacity":1},
        "encoding":{"x":{"field":"g","type":"nominal"},"y":{"field":"e","type":"quantitative"},
         "color":{"field":"g","type":"nominal","scale":{"domain":["Bsl","CGP"],"range":["black","#9b9b9b"]},"legend":null}}},
       {"data":{"name":"ptD"},"mark":{"type":"line","color":"#9b9b9b","strokeWidth":2},
        "encoding":{"x":{"field":"g","type":"nominal"},"y":{"field":"v","type":"quantitative"},"detail":{"field":"s"}}},
       {"data":{"name":"ptD"},"mark":{"type":"circle","size":45,"opacity":1},
        "encoding":{"x":{"field":"g","type":"nominal"},"y":{"field":"v","type":"quantitative"},
         "color":{"field":"g","type":"nominal","scale":{"domain":["Bsl","CGP"],"range":["black","#9b9b9b"]},"legend":null}}}
      ]
     }
    ]
   }
  ]
 }
]
}
